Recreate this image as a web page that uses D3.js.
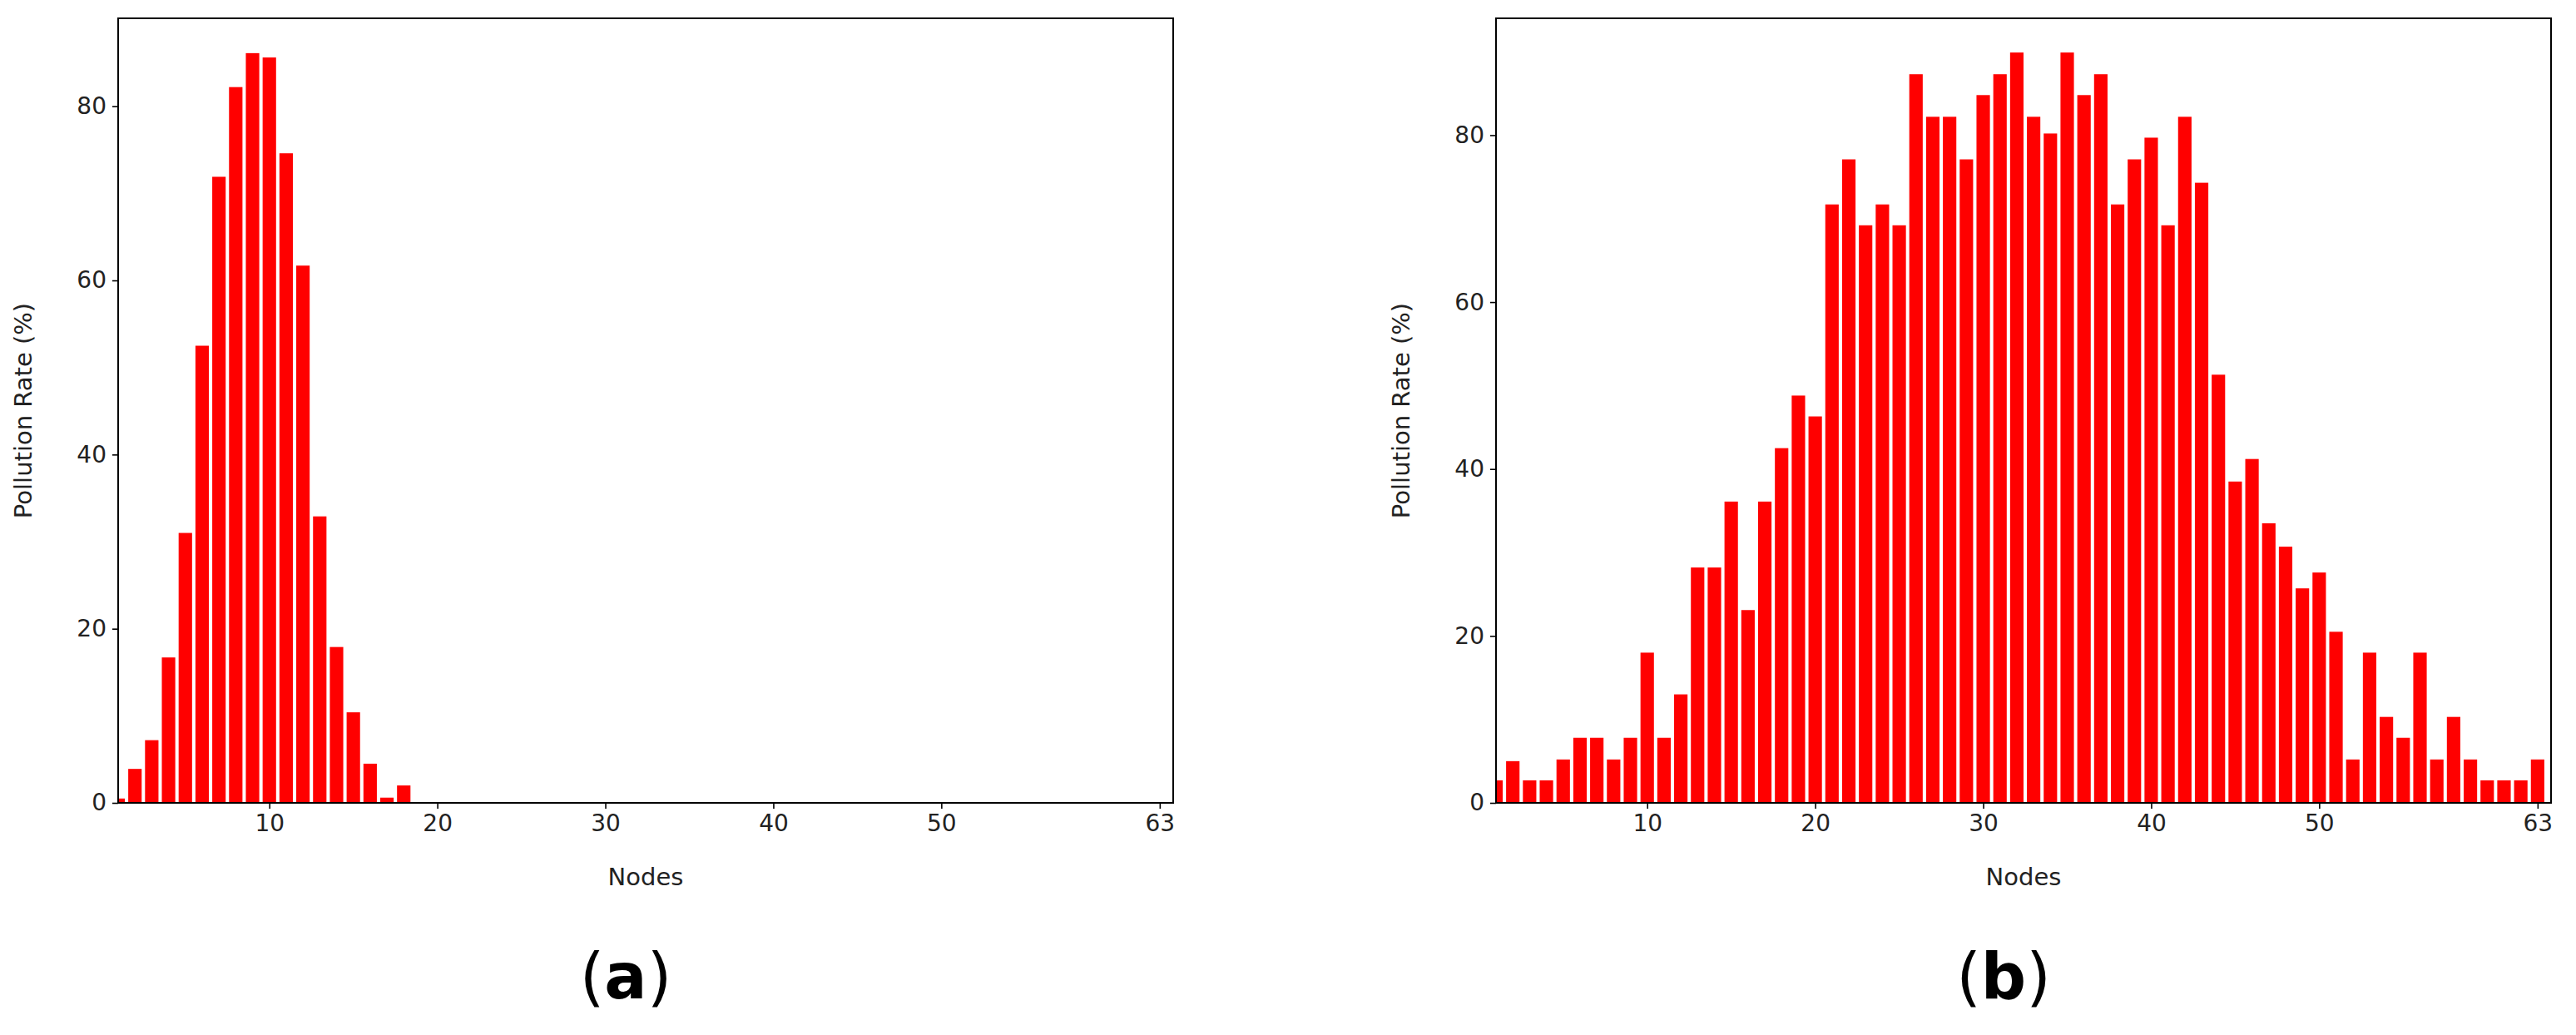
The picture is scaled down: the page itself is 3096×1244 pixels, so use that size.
<!DOCTYPE html>
<html><head><meta charset="utf-8">
<script src="https://cdn.jsdelivr.net/npm/d3@7"></script>
<style>body{margin:0;background:#fff}text{font-family:"DejaVu Sans",sans-serif}</style>
</head><body>
<script>
// pollution rate per node, panel (a) and (b)
const ratesA = [0.5,3.9,7.2,16.7,31.0,52.5,71.9,82.2,86.1,85.6,74.6,61.7,32.9,17.9,10.4,4.5,0.6,2.0,
  0,0,0,0,0,0,0,0,0,0,0,0,0,0,0,0,0,0,0,0,0,0,0,0,0,0,0,0,0,0,0,0,0,0,0,0,0,0,0,0,0,0,0,0,0];
const ratesB = [2.7,5.0,2.7,2.7,5.2,7.8,7.8,5.2,7.8,18.0,7.8,13.0,28.2,28.2,36.1,23.1,36.1,42.5,48.8,46.3,
  71.7,77.1,69.2,71.7,69.2,87.3,82.2,82.2,77.1,84.8,87.3,89.9,82.2,80.2,89.9,84.8,87.3,71.7,77.1,79.7,
  69.2,82.2,74.3,51.3,38.5,41.2,33.5,30.7,25.7,27.6,20.5,5.2,18.0,10.3,7.8,18.0,5.2,10.3,5.2,2.7,2.7,2.7,5.2];
const xTicks = [10,20,30,40,50,63];
const yTicks = [0,20,40,60,80];
const panels = [
  {label:"a", rates:ratesA, left:142, yMax:90.1},
  {label:"b", rates:ratesB, left:1798, yMax:94}
];

const svg = d3.select("body").append("svg").attr("width",3096).attr("height",1244);
const W = 1268, plotTop = 22, plotBottom = 965;

panels.forEach(p => {
  const x = d3.scaleLinear().domain([1,63.8]).range([p.left, p.left+W]);
  const y = d3.scaleLinear().domain([0,p.yMax]).range([plotBottom, plotTop]);
  const g = svg.append("g");
  const bw = x(1.8)-x(1);
  g.append("defs").append("clipPath").attr("id","clip"+p.label)
    .append("rect").attr("x",p.left).attr("y",plotTop).attr("width",W).attr("height",plotBottom-plotTop);
  g.append("g").attr("clip-path",`url(#clip${p.label})`)
    .selectAll("rect").data(p.rates).join("rect")
    .attr("x",(d,i)=>x(i+1)-bw/2).attr("width",bw)
    .attr("y",d=>y(d)).attr("height",d=>plotBottom-y(d))
    .attr("fill","#ff0000");
  const ax = g.append("g").attr("transform",`translate(0,${plotBottom})`)
    .call(d3.axisBottom(x).tickValues(xTicks).tickFormat(d3.format("d")).tickSize(7).tickPadding(7));
  const ay = g.append("g").attr("transform",`translate(${p.left},0)`)
    .call(d3.axisLeft(y).tickValues(yTicks).tickSize(7).tickPadding(7));
  [ax,ay].forEach(a=>{a.select(".domain").remove();
    a.selectAll("line").attr("stroke","#000").attr("stroke-width",1.6);
    a.selectAll("text").attr("font-size",28).attr("fill","#222");});
  g.append("rect").attr("x",p.left).attr("y",plotTop).attr("width",W).attr("height",plotBottom-plotTop)
    .attr("fill","none").attr("stroke","#000").attr("stroke-width",2);
  g.append("text").attr("x",p.left+W/2).attr("y",1064).attr("text-anchor","middle")
    .attr("font-size",29).attr("fill","#222").text("Nodes");
  g.append("text").attr("transform",`translate(${p.left-104},${(plotTop+plotBottom)/2}) rotate(-90)`)
    .attr("text-anchor","middle").attr("font-size",29).attr("fill","#222").text("Pollution Rate (%)");
  const lab = g.append("text").attr("x",p.left+W/2-24).attr("y",1200).attr("text-anchor","middle")
    .attr("font-family","'Liberation Serif',serif").attr("font-size",76);
  lab.append("tspan").text("(");
  lab.append("tspan").attr("font-weight","bold").text(p.label);
  lab.append("tspan").text(")");
});
</script>
</body></html>
